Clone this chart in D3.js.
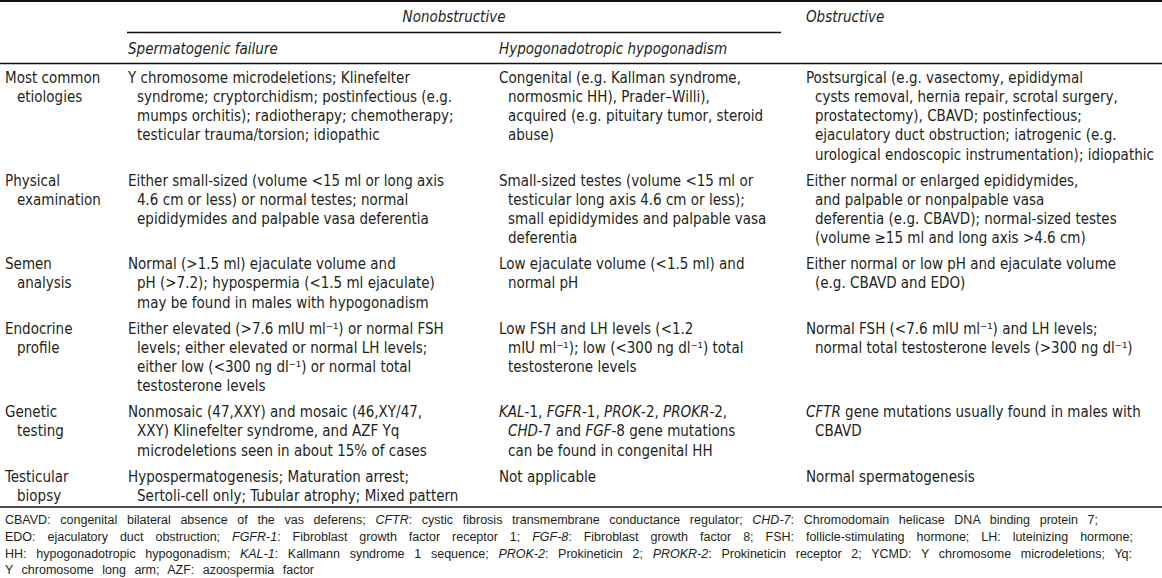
<!DOCTYPE html>
<html>
<head>
<meta charset="utf-8">
<script src="https://cdn.jsdelivr.net/npm/d3@7"></script>
<style>
  body { margin: 0; background: #fff; }
  svg { display: block; }
</style>
</head>
<body>
<svg id="table"></svg>
<script>
const width = 1162;
const height = 578;

// header texts
const groupHeaders = ["Nonobstructive", "Obstructive"];
const subHeaders = ["Spermatogenic failure", "Hypogonadotropic hypogonadism", ""];

// row labels (already broken as in the source)
const rowLabels = [
    ["Most common", "etiologies"],
    ["Physical", "examination"],
    ["Semen", "analysis"],
    ["Endocrine", "profile"],
    ["Genetic", "testing"],
    ["Testicular", "biopsy"]
];

// *...* marks italic
const spermatogenic = [
    ["Y chromosome microdeletions; Klinefelter", "syndrome; cryptorchidism; postinfectious (e.g.", "mumps orchitis); radiotherapy; chemotherapy;", "testicular trauma/torsion; idiopathic"],
    ["Either small-sized (volume <15 ml or long axis", "4.6 cm or less) or normal testes; normal", "epididymides and palpable vasa deferentia"],
    ["Normal (>1.5 ml) ejaculate volume and", "pH (>7.2); hypospermia (<1.5 ml ejaculate)", "may be found in males with hypogonadism"],
    ["Either elevated (>7.6 mIU ml\u207B\u00B9) or normal FSH", "levels; either elevated or normal LH levels;", "either low (<300 ng dl\u207B\u00B9) or normal total", "testosterone levels"],
    ["Nonmosaic (47,XXY) and mosaic (46,XY/47,", "XXY) Klinefelter syndrome, and AZF Yq", "microdeletions seen in about 15% of cases"],
    ["Hypospermatogenesis; Maturation arrest;", "Sertoli-cell only; Tubular atrophy; Mixed pattern"]
];

const hypogonadism = [
    ["Congenital (e.g. Kallman syndrome,", "normosmic HH), Prader\u2013Willi),", "acquired (e.g. pituitary tumor, steroid", "abuse)"],
    ["Small-sized testes (volume <15 ml or", "testicular long axis 4.6 cm or less);", "small epididymides and palpable vasa", "deferentia"],
    ["Low ejaculate volume (<1.5 ml) and", "normal pH"],
    ["Low FSH and LH levels (<1.2", "mIU ml\u207B\u00B9); low (<300 ng dl\u207B\u00B9) total", "testosterone levels"],
    ["*KAL*-1, *FGFR*-1, *PROK*-2, *PROKR*-2,", "*CHD*-7 and *FGF*-8 gene mutations", "can be found in congenital HH"],
    ["Not applicable"]
];

const obstructive = [
    ["Postsurgical (e.g. vasectomy, epididymal", "cysts removal, hernia repair, scrotal surgery,", "prostatectomy), CBAVD; postinfectious;", "ejaculatory duct obstruction; iatrogenic (e.g.", "urological endoscopic instrumentation); idiopathic"],
    ["Either normal or enlarged epididymides,", "and palpable or nonpalpable vasa", "deferentia (e.g. CBAVD); normal-sized testes", "(volume \u226515 ml and long axis >4.6 cm)"],
    ["Either normal or low pH and ejaculate volume", "(e.g. CBAVD and EDO)"],
    ["Normal FSH (<7.6 mIU ml\u207B\u00B9) and LH levels;", "normal total testosterone levels (>300 ng dl\u207B\u00B9)"],
    ["*CFTR* gene mutations usually found in males with", "CBAVD"],
    ["Normal spermatogenesis"]
];

const footnotes = [
    "CBAVD: congenital bilateral absence of the vas deferens; *CFTR*: cystic fibrosis transmembrane conductance regulator; *CHD-7*: Chromodomain helicase DNA binding protein 7;",
    "EDO: ejaculatory duct obstruction; *FGFR-1*: Fibroblast growth factor receptor 1; *FGF-8*: Fibroblast growth factor 8; FSH: follicle-stimulating hormone; LH: luteinizing hormone;",
    "HH: hypogonadotropic hypogonadism; *KAL-1*: Kallmann syndrome 1 sequence; *PROK-2*: Prokineticin 2; *PROKR-2*: Prokineticin receptor 2; YCMD: Y chromosome microdeletions; Yq:",
    "Y chromosome long arm; AZF: azoospermia factor"
];
// measured right edge of each footnote line
const footnoteEnds = [1098, 1133, 1132, 314];

const ink = "#231f20";
const mainFont = "'Liberation Sans Narrow', 'DejaVu Sans Condensed', 'Roboto', sans-serif";
const noteFont = "'Liberation Sans Narrow', 'Liberation Sans', sans-serif";
const fs = 15;
const lineH = 19.2;
const rowGap = 6.8;
const indent = 9;

const svg = d3.select("#table")
    .attr("width", width)
    .attr("height", height)
    .attr("font-family", mainFont)
    .attr("font-size", fs)
    .attr("fill", ink);

// column x positions
const colX = d3.scaleOrdinal()
    .domain(["label", "sperm", "hypo", "obst"])
    .range([5, 128, 499, 806]);

// row tops from line counts
const cols = [spermatogenic, hypogonadism, obstructive];
const lineCounts = rowLabels.map((l, i) =>
    d3.max([l.length, ...cols.map(c => c[i].length)])
);
const rowTop = [];
let acc = 77.5;
lineCounts.forEach(n => {
    rowTop.push(acc);
    acc += n * lineH + rowGap;
});

function richText(sel, str) {
    const parts = str.split(/(\*[^*]+\*)/).filter(p => p.length);
    parts.forEach(p => {
        const it = p.startsWith("*") && p.endsWith("*");
        sel.append("tspan")
            .attr("font-style", it ? "italic" : null)
            .text(it ? p.slice(1, -1) : p);
    });
}

function drawCell(g, lines, x, y, ind) {
    lines.forEach((ln, k) => {
        const t = g.append("text")
            .attr("x", x + (k > 0 ? ind : 0))
            .attr("y", y + k * lineH)
            .attr("dy", "0.35em");
        richText(t, ln);
    });
}

// rules
const rules = svg.append("g").attr("stroke", "#111");
rules.append("line").attr("x1", 0).attr("x2", width).attr("y1", 1).attr("y2", 1).attr("stroke-width", 2);
rules.append("line").attr("x1", 127).attr("x2", 781).attr("y1", 32.5).attr("y2", 32.5).attr("stroke-width", 1.3);
rules.append("line").attr("x1", 0).attr("x2", width).attr("y1", 63.5).attr("y2", 63.5).attr("stroke-width", 1.3);
rules.append("line").attr("x1", 0).attr("x2", width).attr("y1", 507).attr("y2", 507).attr("stroke-width", 1.3);

// headers
const head = svg.append("g").attr("font-style", "italic");
head.append("text")
    .attr("x", (127 + 781) / 2).attr("y", 17).attr("dy", "0.35em")
    .attr("text-anchor", "middle")
    .text(groupHeaders[0]);
head.append("text")
    .attr("x", colX("obst")).attr("y", 17).attr("dy", "0.35em")
    .text(groupHeaders[1]);
head.selectAll("text.sub")
    .data(subHeaders)
    .join("text")
    .attr("class", "sub")
    .attr("x", (d, i) => colX(["sperm", "hypo", "obst"][i]))
    .attr("y", 49)
    .attr("dy", "0.35em")
    .text(d => d);

// body
const body = svg.append("g");
rowLabels.forEach((lab, i) => {
    drawCell(body, lab, colX("label"), rowTop[i], 12);
    drawCell(body, spermatogenic[i], colX("sperm"), rowTop[i], indent);
    drawCell(body, hypogonadism[i], colX("hypo"), rowTop[i], indent);
    drawCell(body, obstructive[i], colX("obst"), rowTop[i], indent);
});

// footnotes
const notes = svg.append("g")
    .attr("font-family", noteFont)
    .attr("font-size", 12.5);
footnotes.forEach((ln, i) => {
    const t = notes.append("text")
        .attr("x", 5)
        .attr("y", 520 + i * 16.6)
        .attr("dy", "0.35em");
    richText(t, ln);
    const natural = t.node().getComputedTextLength();
    const spaces = (ln.match(/ /g) || []).length;
    t.attr("word-spacing", Math.max(0, (footnoteEnds[i] - 5 - natural) / spaces));
});
</script>
</body>
</html>
